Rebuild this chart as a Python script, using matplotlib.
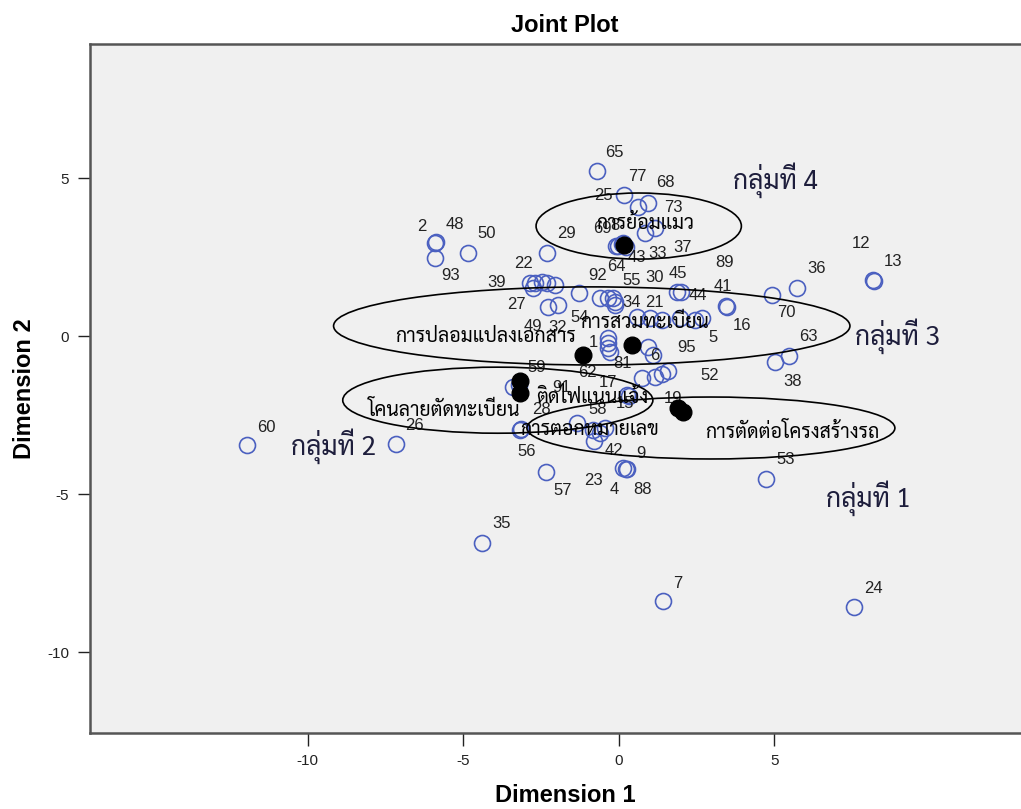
import matplotlib
matplotlib.use('Agg')
import matplotlib.pyplot as plt
from matplotlib.patches import Ellipse

plt.rcParams['font.family'] = ['Liberation Sans', 'DejaVu Sans']
plt.rcParams['axes.unicode_minus'] = False
THAI = ['Sarabun', 'Noto Sans Thai', 'DejaVu Sans']
NARROW = ['Liberation Sans Narrow', 'Liberation Sans', 'DejaVu Sans']

# case points (object scores)
case_ids = ['65', '25', '77', '68', '73', '69', '8', '43', '33', '37', '64',
            '2', '48', '93', '50', '29', '22', '39', '27', '', '', '',
            '49', '32', '54', '92', '', '55', '30', '34', '45', '44', '41', '89',
            '21', '', '', '', '16', '5', '1', '', '81', '62', '6', '95',
            '52', '', '', '17', '59', '91', '15', '19', '56', '28', '58',
            '23', '', '', '42', '9', '88', '4', '57', '35', '7', '24', '53',
            '38', '63', '70', '36', '12', '13', '60', '26']
case_x = [-0.71, 0.16, 0.61, 0.93, 1.16, 0.84, 0.13, -0.03, 0.10, 0.23, -0.10,
          -5.92, -5.88, -5.92, -4.86, -2.32, -2.48, -2.86, -2.77, -2.70, -2.32, -2.06,
          -2.28, -1.96, -1.29, -0.61, -0.35, -0.19, -0.13, -0.13, 1.86, 1.99, 3.47, 3.44,
          0.58, 1.00, 1.38, 1.96, 2.44, 2.67, -0.35, -0.35, -0.35, -0.29, 0.93, 1.09,
          1.58, 1.38, 1.16, 0.74, -3.41, -3.22, 0.26, 0.32, -3.18, -3.15, -1.35,
          -0.84, -0.61, -0.45, -0.80, 0.26, 0.23, 0.13, -2.35, -4.41, 1.41, 7.56, 4.73,
          5.02, 5.47, 4.92, 5.72, 8.17, 8.20, -11.96, -7.17]
case_y = [5.22, 4.46, 4.08, 4.21, 3.42, 3.26, 2.94, 2.85, 2.91, 2.82, 2.85,
          2.94, 2.97, 2.47, 2.63, 2.63, 1.71, 1.68, 1.52, 1.68, 1.68, 1.61,
          0.92, 0.98, 1.36, 1.20, 1.20, 1.20, 1.08, 0.98, 1.39, 1.39, 0.92, 0.95,
          0.60, 0.57, 0.51, 0.57, 0.51, 0.57, -0.06, -0.22, -0.38, -0.51, -0.35, -0.60,
          -1.11, -1.20, -1.30, -1.33, -1.61, -1.55, -1.87, -1.90, -2.97, -2.94, -2.75,
          -2.97, -3.07, -2.91, -3.32, -4.21, -4.21, -4.18, -4.30, -6.55, -8.39, -8.58, -4.53,
          -0.82, -0.63, 1.30, 1.52, 1.77, 1.74, -3.45, -3.42]
# where SPSS put each number, relative to its circle (pixels)
case_off = [(18, 19), (-20, 0), (0, 31), (18, 20), (18, 20), (-43, 5), (-8, 18), (19, -12),
            (36, -9), (57, -1), (1, -21),
            (-13, 17), (19, 18), (16, -18), (19, 19), (20, 19), (-18, 18), (-33, 0), (-16, -17),
            None, None, None,
            (-15, -20), (0, -22), (1, -24), (-2, 23), None, (19, 18), (40, 24), (17, 3),
            (1, 19), (17, -3), (-4, 20), (-1, 44),
            (18, 15), None, None, None, (47, -6), (11, -19), (-15, -5), None, (15, -15),
            (-22, -20), (7, -8), (34, 7),
            (42, -4), None, None, (-34, -4), (24, 19), (43, -2), (-2, -8), (44, -2),
            (7, -22), (21, 19), (21, 13),
            (1, -51), None, None, (20, -10), (14, 16), (17, -20), (-9, -21), (17, -19),
            (20, 20), (15, 18), (19, 19), (20, 20),
            (18, -20), (19, 19), (15, -18), (20, 19), (-12, 37), (19, 20), (20, 18), (19, 19)]

# category points
cat_names = ['การย้อมแมว', 'การปลอมแปลงเอกสาร', 'การสวมทะเบียน', 'โคนลายตัดทะเบียน',
             'ติดไฟแนนแจ้ง', 'การตอกหมายเลข', 'การตัดต่อโครงสร้างรถ']
cat_x = [0.16, -1.16, 0.42, -3.18, -3.18, 1.90, 2.06]
cat_y = [2.88, -0.60, -0.28, -1.80, -1.42, -2.28, -2.41]
cat_off = [(21, 22), (-97, 18), (13, 22), (-76, -17), (72, -16), (-88, -22), (109, -20)]

# groups drawn by hand
grp_names = ['กลุ่มที่ 4', 'กลุ่มที่ 3', 'กลุ่มที่ 2', 'กลุ่มที่ 1']
grp_x = [5.02, 8.97, -9.16, 8.01]
grp_y = [4.94, 0.0, -3.48, -5.13]
ell_x = [0.64, -0.87, -3.89, 2.96]
ell_y = [3.48, 0.32, -2.03, -2.91]
ell_w = [6.6, 16.6, 9.97, 11.83]
ell_h = [2.09, 2.47, 2.09, 1.96]

fig = plt.figure(figsize=(10.21, 8.09), dpi=100)
ax = fig.add_axes([90 / 1021, 76 / 809, 950 / 1021, 689 / 809])
ax.set_facecolor('#f0f0f0')

ax.plot(case_x, case_y, 'o', ms=11.5, mfc='none', mec='#4b60c0', mew=1.2, zorder=3)
for lab, x, y, off in zip(case_ids, case_x, case_y, case_off):
    if lab and off:
        ax.annotate(lab, (x, y), xytext=(off[0], off[1]), textcoords='offset pixels',
                    ha='center', va='center', fontsize=12, color='#222222', zorder=4)

ax.plot(cat_x, cat_y, 'o', ms=12, color='black', zorder=5)
for lab, x, y, off in zip(cat_names, cat_x, cat_y, cat_off):
    ax.annotate(lab, (x, y), xytext=off, textcoords='offset pixels', ha='center',
                va='center', fontsize=14, family=THAI, color='black', zorder=6)

for x, y, w, h in zip(ell_x, ell_y, ell_w, ell_h):
    ax.add_patch(Ellipse((x, y), w, h, fill=False, ec='black', lw=1.2, zorder=7))
for lab, x, y in zip(grp_names, grp_x, grp_y):
    ax.text(x, y, lab, ha='center', va='center', fontsize=19, family=THAI,
            color='#1e1e3c', zorder=7)

ax.set_xlim(-17.0, 13.54)
ax.set_ylim(-12.56, 9.24)
ax.set_xticks([-10, -5, 0, 5])
ax.set_yticks([-10, -5, 0, 5])
ax.tick_params(length=9, width=1, colors='#222222', labelsize=11, pad=6)
for t in ax.get_xticklabels() + ax.get_yticklabels():
    t.set_family(NARROW)
for s in ax.spines.values():
    s.set_color('#555555')
    s.set_linewidth(1.8)

ax.set_title('Joint Plot', fontsize=17, fontweight='bold', pad=9)
ax.set_xlabel('Dimension 1', fontsize=17, fontweight='bold', labelpad=12)
ax.set_ylabel('Dimension 2', fontsize=17, fontweight='bold', labelpad=8)

fig.savefig('out.png')
